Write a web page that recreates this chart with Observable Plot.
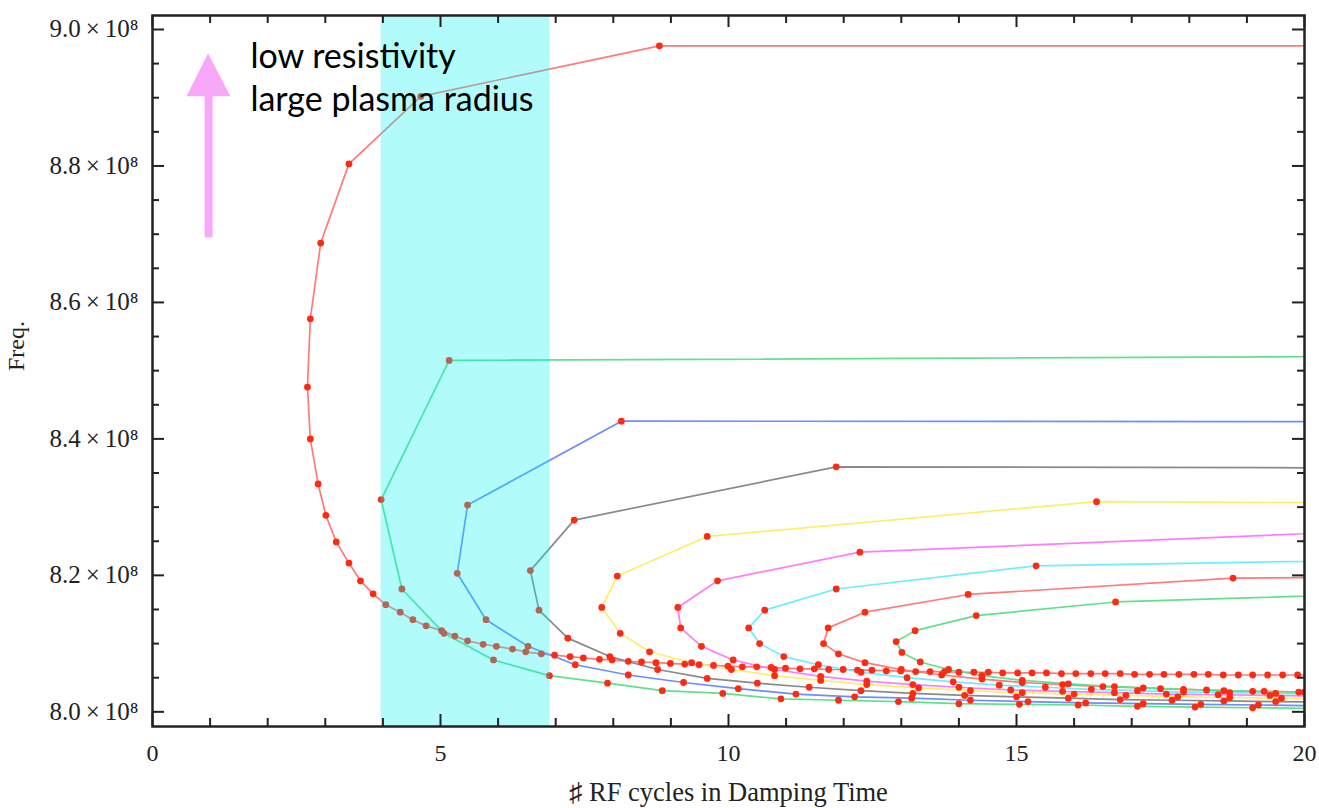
<!DOCTYPE html>
<html>
<head>
<meta charset="utf-8">
<script src="https://cdn.jsdelivr.net/npm/d3@7"></script>
<script src="https://cdn.jsdelivr.net/npm/@observablehq/plot@0.6"></script>
<style>
  html, body { margin: 0; padding: 0; background: #fff; overflow: hidden; }
  svg { display: block; }
</style>
</head>
<body>
<div id="chart"></div>
<script>
// Frequencies in units of 10^8 Hz; x = number of RF cycles in damping time.
const redCurve = [
  [24, 8.976], [8.80, 8.976], [4.66, 8.902], [3.41, 8.803], [2.92, 8.687], [2.74, 8.576],
  [2.69, 8.476], [2.74, 8.400], [2.875, 8.334], [3.01, 8.288], [3.19, 8.249], [3.41, 8.218],
  [3.61, 8.192], [3.83, 8.173], [4.05, 8.157], [4.30, 8.146], [4.52, 8.135], [4.75, 8.126],
  [5.02, 8.119], [5.25, 8.111], [5.47, 8.104], [5.74, 8.099], [5.97, 8.096], [6.25, 8.092],
  [6.48, 8.088], [6.75, 8.085], [6.98, 8.083], [7.25, 8.081], [7.48, 8.079], [7.76, 8.077],
  [7.98, 8.076], [8.26, 8.074], [8.49, 8.073], [8.74, 8.072], [8.99, 8.071], [9.24, 8.070],
  [9.49, 8.069], [9.74, 8.068], [9.99, 8.067], [10.24, 8.066], [10.49, 8.066], [10.74, 8.065],
  [10.99, 8.064], [11.24, 8.063], [11.49, 8.063], [11.74, 8.062], [11.99, 8.062], [12.24, 8.061],
  [12.49, 8.061], [12.74, 8.060], [12.99, 8.060], [13.25, 8.059], [13.50, 8.059], [13.75, 8.059],
  [14.00, 8.058], [14.26, 8.058], [14.51, 8.058], [14.76, 8.057], [15.02, 8.057], [15.27, 8.057],
  [15.52, 8.057], [15.78, 8.056], [16.03, 8.056], [16.29, 8.056], [16.54, 8.056], [16.80, 8.056],
  [17.05, 8.055], [17.31, 8.055], [17.56, 8.055], [17.82, 8.055], [18.08, 8.055], [18.33, 8.055],
  [18.59, 8.054], [18.85, 8.054], [19.10, 8.054], [19.36, 8.054], [19.62, 8.054], [19.88, 8.054],
  [20.14, 8.054]
];
const greenCurve = [
  [24, 8.522], [5.15, 8.515], [3.97, 8.311], [4.33, 8.180], [5.06, 8.115], [5.92, 8.076],
  [6.89, 8.053], [7.90, 8.042], [8.85, 8.031], [9.90, 8.027], [10.91, 8.019], [11.91, 8.017],
  [12.95, 8.015], [14.00, 8.012], [15.05, 8.011], [16.07, 8.010], [17.10, 8.008], [18.10, 8.007],
  [19.10, 8.006], [20.10, 8.005]
];
const blueCurve = [
  [24, 8.425], [8.14, 8.426], [5.47, 8.303], [5.29, 8.203], [5.79, 8.135], [6.52, 8.096],
  [7.34, 8.069], [8.26, 8.054], [9.22, 8.043], [10.17, 8.034], [11.17, 8.026], [12.19, 8.022],
  [13.18, 8.020], [14.20, 8.017], [15.20, 8.015], [16.20, 8.013], [17.20, 8.012], [18.20, 8.011],
  [19.20, 8.010], [20.20, 8.009]
];
const grayCurve = [
  [24, 8.357], [11.87, 8.359], [7.32, 8.281], [6.56, 8.207], [6.71, 8.149], [7.21, 8.108],
  [7.94, 8.081], [8.77, 8.062], [9.63, 8.049], [10.50, 8.042], [11.40, 8.036], [12.30, 8.031],
  [13.20, 8.027], [14.10, 8.024], [15.00, 8.022], [15.90, 8.020], [16.80, 8.018], [17.70, 8.017],
  [18.60, 8.016], [19.50, 8.015], [20.40, 8.014]
];
const yellowCurve = [
  [24, 8.305], [16.39, 8.308], [9.63, 8.257], [8.07, 8.199], [7.80, 8.153], [8.12, 8.115],
  [8.63, 8.088], [9.36, 8.072], [10.05, 8.062], [10.80, 8.053], [11.60, 8.046], [12.40, 8.040],
  [13.30, 8.035], [14.20, 8.031], [15.10, 8.028], [16.00, 8.026], [16.90, 8.024], [17.80, 8.022],
  [18.70, 8.021], [19.60, 8.020], [20.50, 8.019]
];
const magentaCurve = [
  [24, 8.275], [12.28, 8.234], [9.81, 8.192], [9.12, 8.153], [9.17, 8.123], [9.53, 8.096],
  [10.08, 8.076], [10.80, 8.062], [11.60, 8.052], [12.40, 8.045], [13.20, 8.040], [14.00, 8.036],
  [14.90, 8.032], [15.80, 8.030], [16.70, 8.028], [17.60, 8.026], [18.50, 8.025], [19.40, 8.024],
  [20.30, 8.023]
];
const cyanCurve = [
  [24, 8.226], [15.34, 8.214], [11.87, 8.180], [10.63, 8.149], [10.35, 8.123], [10.54, 8.100],
  [10.96, 8.081], [11.56, 8.069], [12.30, 8.058], [13.10, 8.050], [13.90, 8.044], [14.70, 8.039],
  [15.50, 8.036], [16.30, 8.033], [17.10, 8.031], [17.90, 8.029], [18.70, 8.028], [19.50, 8.027],
  [20.30, 8.026]
];
const red2Curve = [
  [24, 8.199], [18.76, 8.196], [14.16, 8.172], [12.37, 8.146], [11.73, 8.123], [11.65, 8.100],
  [11.91, 8.085], [12.37, 8.072], [13.00, 8.062], [13.70, 8.054], [14.40, 8.048], [15.10, 8.043],
  [15.80, 8.040], [16.50, 8.037], [17.20, 8.035], [17.90, 8.033], [18.60, 8.031], [19.30, 8.030],
  [20.00, 8.029]
];
const green2Curve = [
  [24, 8.180], [16.72, 8.161], [14.30, 8.141], [13.24, 8.119], [12.91, 8.103], [13.01, 8.087],
  [13.33, 8.073], [13.82, 8.062], [14.40, 8.053], [15.10, 8.046], [15.90, 8.041], [16.70, 8.037],
  [17.50, 8.034], [18.30, 8.032], [19.10, 8.030], [19.90, 8.029]
];

const seriesNames = ["red", "green", "blue", "gray", "yellow", "magenta", "cyan", "red2", "green2"];
const seriesData = [redCurve, greenCurve, blueCurve, grayCurve, yellowCurve, magentaCurve, cyanCurve, red2Curve, green2Curve];
const seriesColors = ["#ff7a7a", "#62e08c", "#6d8cff", "#8a8a8a", "#ffee6a", "#ff7cff", "#6ceeff", "#ff7a7a", "#62e08c"];

const xTicks = [0, 5, 10, 15, 20];
const yTicks = [8.0e8, 8.2e8, 8.4e8, 8.6e8, 8.8e8, 9.0e8];
const xMinorTicks = d3.range(0, 21, 1).filter(d => d % 5 !== 0);
const yMinorTicks = d3.range(0, 21).map(i => 8.0e8 + i * 0.05e8).filter((d, i) => i % 4 !== 0);

const band = [{x1: 3.97, x2: 6.9}];
const annotationText = ["low resistivity\nlarge plasma radius"];
const arrowShaft = [{x: 0.974, y1: 8.6947e8, y2: 8.905e8}];
const arrowHead = [
  {x: 0.60, y1: 8.9013e8, y2: 8.9013e8},
  {x: 0.974, y1: 8.9013e8, y2: 8.9644e8},
  {x: 1.36, y1: 8.9013e8, y2: 8.9013e8}
];

const W = 1319, H = 808, mL = 152, mR = 15, mT = 15, mB = 82;
const fw = W - mL - mR, fh = H - mT - mB;
const ink = "#222";

const lineMarks = seriesData.map((pts, i) => Plot.line(pts, {
  x: d => d[0], y: d => d[1] * 1e8, stroke: seriesColors[i], strokeWidth: 1.7, clip: true
}));
const dotMarks = seriesData.map(pts => Plot.dot(pts, {
  x: d => d[0], y: d => d[1] * 1e8, r: 3.4, fill: "#ff2a12", stroke: "none", clip: true
}));

const fmtY = d => `${(d / 1e8).toFixed(1)}\u2009×\u200910⁸`;

const chart = Plot.plot({
  width: W, height: H,
  marginLeft: mL, marginRight: mR, marginTop: mT, marginBottom: mB,
  x: {domain: [0, 20], label: null},
  y: {domain: [7.9785e8, 9.0205e8], label: null},
  style: {fontFamily: "'Liberation Serif', 'DejaVu Serif', serif", background: "#fff", color: ink},
  marks: [
    ...lineMarks,
    ...dotMarks,
    Plot.rect(band, {x1: "x1", x2: "x2", fill: "#00f2f2", fillOpacity: 0.3}),
    Plot.ruleX(arrowShaft, {x: "x", y1: "y1", y2: "y2", stroke: "#f9a8f9", strokeWidth: 8}),
    Plot.areaY(arrowHead, {x: "x", y1: "y1", y2: "y2", fill: "#f9a8f9"}),
    Plot.text(annotationText, {
      x: 1.70, y: 8.9886e8, text: d => d, textAnchor: "start", lineAnchor: "top",
      fontSize: 34, lineHeight: 1.265, fill: "#000",
      fontFamily: "Lato, 'Open Sans', sans-serif"
    }),
    // inward ticks on all four sides
    Plot.tickX(xTicks, {x: d => d, insetTop: fh - 12, stroke: ink, strokeWidth: 2}),
    Plot.tickX(xMinorTicks, {x: d => d, insetTop: fh - 8, stroke: ink, strokeWidth: 2}),
    Plot.tickX(xTicks, {x: d => d, insetBottom: fh - 12, stroke: ink, strokeWidth: 2}),
    Plot.tickX(xMinorTicks, {x: d => d, insetBottom: fh - 8, stroke: ink, strokeWidth: 2}),
    Plot.tickY(yTicks, {y: d => d, insetRight: fw - 12, stroke: ink, strokeWidth: 2}),
    Plot.tickY(yMinorTicks, {y: d => d, insetRight: fw - 7, stroke: ink, strokeWidth: 2}),
    Plot.tickY(yTicks, {y: d => d, insetLeft: fw - 12, stroke: ink, strokeWidth: 2}),
    Plot.tickY(yMinorTicks, {y: d => d, insetLeft: fw - 7, stroke: ink, strokeWidth: 2}),
    Plot.frame({stroke: ink, strokeWidth: 2.5}),
    Plot.axisX(xTicks, {tickSize: 0, tickPadding: 17, fontSize: 24, label: null, tickFormat: d => String(d)}),
    Plot.axisY(yTicks, {tickSize: 0, tickPadding: 14, fontSize: 25, label: null, tickFormat: fmtY}),
    Plot.text(["♯ RF cycles in Damping Time"], {frameAnchor: "bottom", dy: 74, fontSize: 26.5, text: d => d, fill: ink}),
    Plot.text(["Freq."], {frameAnchor: "left", dx: -136, rotate: -90, fontSize: 24, text: d => d, fill: ink})
  ]
});
document.getElementById("chart").appendChild(chart);
</script>
</body>
</html>
